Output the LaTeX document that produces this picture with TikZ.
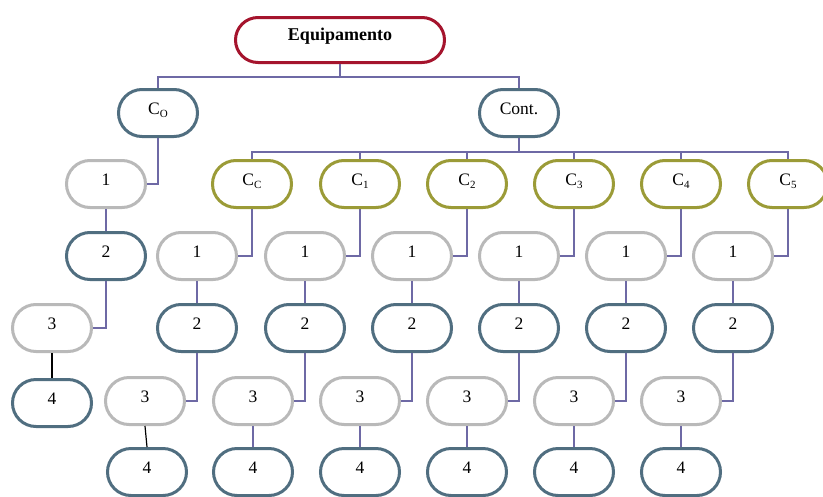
\documentclass[tikz,border=0pt]{standalone}
\usepackage{fontspec}
\setmainfont{Liberation Serif}
\usetikzlibrary{shapes.misc}
\definecolor{eqred}{RGB}{165,20,45}
\definecolor{boxblue}{RGB}{80,110,128}
\definecolor{boxolive}{RGB}{155,155,55}
\definecolor{boxgrey}{RGB}{185,185,185}
\definecolor{conncol}{RGB}{110,105,165}
\newcommand\sbs[1]{\raisebox{-0.35ex}{\fontsize{11}{11}\selectfont #1}}
\tikzset{
  box/.style={rounded rectangle, draw, line width=3pt, minimum width=79pt, minimum height=47pt,
    inner sep=0pt, font=\fontsize{17.5}{20}\selectfont, text height=10pt, text depth=7pt},
  bluebox/.style={box, draw=boxblue},
  olivebox/.style={box, draw=boxolive},
  greybox/.style={box, draw=boxgrey},
  redbox/.style={box, draw=eqred, minimum width=209pt, minimum height=45pt, font=\fontsize{18}{20}\selectfont\bfseries, text depth=9pt},
  conn/.style={draw=conncol, line width=1.2pt},
}
\begin{document}
\begin{tikzpicture}[x=1pt,y=-1pt]
\clip (0,0) rectangle (823,496);
\fill[white] (0,0) rectangle (823,496);
\node[redbox] (eq) at (340,40) {Equipamento};
\node[bluebox] (co) at (158,113) {C\sbs{O}};
\node[bluebox] (cont) at (519,113) {Cont.};
\draw[conn] (eq.south) -- ++(0,13) -| (co.north);
\draw[conn] (eq.south) -- ++(0,13) -| (cont.north);
% left column
\node[greybox] (l1) at (106,184) {1};
\node[bluebox] (l2) at (106,256) {2};
\node[greybox] (l3) at (52,328) {3};
\node[bluebox] (l4) at (52,403) {4};
\draw[conn] (co.south) |- (l1.east);
\draw[conn] (l1.south) -- (l2.north);
\draw[conn] (l2.south) |- (l3.east);
\draw[line width=1.2pt] (l3.south) -- (l4.north);
% component columns
\foreach \n/\x/\s/\lc/\dx in {cc/252/C/black/105, c1/360/1/conncol/107, c2/467/2/conncol/107, c3/574/3/conncol/107, c4/681/4/conncol/107, c5/788/5/conncol/107}{
  \node[olivebox] (\n) at (\x,184) {C\sbs{\s}};
  \node[greybox] (\n-a) at (\x-55,256) {1};
  \node[bluebox] (\n-b) at (\x-55,328) {2};
  \node[greybox] (\n-c) at (\x-107,401) {3};
  \node[bluebox] (\n-d) at (\x-\dx,472) {4};
  \draw[conn] (cont.south) -- ++(0,14) -| (\n.north);
  \draw[conn] (\n.south) |- (\n-a.east);
  \draw[conn] (\n-a.south) -- (\n-b.north);
  \draw[conn] (\n-b.south) |- (\n-c.east);
  \draw[line width=1.2pt, draw=\lc] (\n-c.south) -- (\n-d.north);
}
\end{tikzpicture}
\end{document}
